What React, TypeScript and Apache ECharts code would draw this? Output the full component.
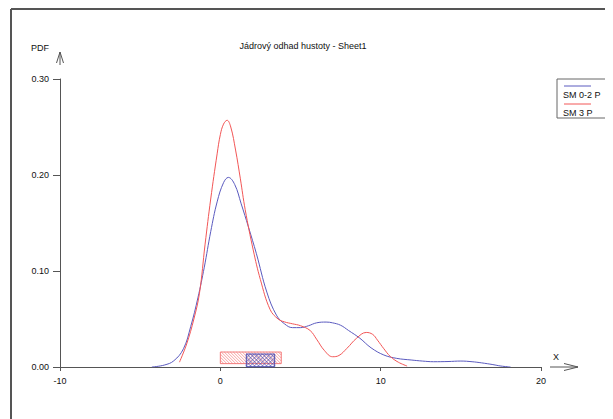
import React, { useEffect, useRef } from "react";
import * as echarts from "echarts";

const chartTitle = "Jádrový odhad hustoty - Sheet1";
const yAxisName = "PDF";
const xAxisName = "X";
const seriesNames = ["SM 0-2 P", "SM 3 P"];
const seriesColors = ["#5a5abf", "#f25656"];
const hatchColors = ["#4b4bb0", "#f47a7a"];

// SM 0-2 P kernel density
const blueX = [-4.27, -3.5, -2.9, -2.3, -1.85, -1.4, -1.0, -0.6, -0.2, 0.2, 0.5, 0.9, 1.3, 1.75, 2.25, 2.9, 3.5, 4.0, 4.5, 5.0, 5.5, 6.0, 6.6, 7.0, 7.5, 8.0, 8.7, 9.4, 10.2, 11.0, 11.9, 12.6, 13.3, 14.2, 15.0, 15.7, 16.3, 17.0, 17.5, 18.1];
const blueY = [0.0, 0.002, 0.0065, 0.019, 0.042, 0.072, 0.104, 0.141, 0.172, 0.192, 0.1975, 0.19, 0.17, 0.146, 0.118, 0.078, 0.054, 0.045, 0.041, 0.041, 0.043, 0.046, 0.0468, 0.046, 0.0435, 0.038, 0.03, 0.02, 0.0125, 0.009, 0.0073, 0.0062, 0.0055, 0.0057, 0.0062, 0.0055, 0.0043, 0.0025, 0.001, 0.0];

// SM 3 P kernel density
const redX = [-2.55, -2.1, -1.65, -1.3, -0.95, -0.6, -0.2, 0.0, 0.2, 0.42, 0.65, 0.95, 1.25, 1.55, 2.05, 2.5, 3.1, 3.6, 4.0, 4.5, 5.0, 5.6, 6.0, 6.5, 7.0, 7.4, 7.9, 8.5, 9.1, 9.5, 9.8, 10.2, 10.6, 11.1, 11.65];
const redY = [0.005, 0.024, 0.05, 0.077, 0.128, 0.175, 0.222, 0.242, 0.253, 0.257, 0.25, 0.226, 0.196, 0.164, 0.122, 0.091, 0.06, 0.05, 0.047, 0.045, 0.043, 0.038, 0.029, 0.017, 0.0107, 0.012, 0.0195, 0.03, 0.036, 0.034, 0.028, 0.019, 0.011, 0.005, 0.001];

// hatched boxes: [xStart, xEnd, yBottom, yTop]
const redBox = [0.0, 3.8, 0.0035, 0.0156];
const blueBox = [1.62, 3.39, 0.0003, 0.0135];

const xMin = -10, xMax = 20, xInterval = 10;
const yMin = 0, yMax = 0.3, yInterval = 0.1;

const FONT = "'Liberation Sans', Arial, sans-serif";

function hatchRender(cross: boolean, color: string, spacing: number) {
  return (params: any, api: any) => {
    const p0 = api.coord([api.value(0), api.value(3)]);
    const p1 = api.coord([api.value(1), api.value(2)]);
    const x0 = p0[0], y0 = p0[1];
    const w = p1[0] - p0[0], h = p1[1] - p0[1];
    const s = spacing;
    const children: any[] = [];
    for (let c = y0 - (x0 + w); c <= y0 + h - x0; c += s) {
      const xa = Math.max(x0, y0 - c), xb = Math.min(x0 + w, y0 + h - c);
      if (xb > xa) children.push({ type: "line", shape: { x1: xa, y1: xa + c, x2: xb, y2: xb + c }, style: { stroke: color, lineWidth: 0.7 } });
    }
    if (cross) {
      for (let c = x0 + y0; c <= x0 + w + y0 + h; c += s) {
        const xa = Math.max(x0, c - (y0 + h)), xb = Math.min(x0 + w, c - y0);
        if (xb > xa) children.push({ type: "line", shape: { x1: xa, y1: c - xa, x2: xb, y2: c - xb }, style: { stroke: color, lineWidth: 0.7 } });
      }
    }
    children.push({ type: "rect", shape: { x: x0, y: y0, width: w, height: h }, style: { fill: "none", stroke: color, lineWidth: 1 } });
    return { type: "group", children };
  };
}

export default function App() {
  const ref = useRef<HTMLDivElement>(null);
  useEffect(() => {
    if (!ref.current) return;
    const chart = echarts.init(ref.current, null, { renderer: "svg" });
    const axisColor = "#555";
    const labelStyle = { fontSize: 9, fontFamily: FONT, color: "#111" };
    chart.setOption({
      animation: false,
      backgroundColor: "#fff",
      grid: { left: 52, top: 71, width: 481, height: 288 },
      xAxis: {
        type: "value",
        min: xMin, max: xMax, interval: xInterval,
        axisLine: { show: true, onZero: false, lineStyle: { color: axisColor, width: 1 } },
        axisTick: { show: true, length: 4, lineStyle: { color: axisColor } },
        axisLabel: { ...labelStyle, margin: 9, formatter: (v: number) => String(v) },
        splitLine: { show: false },
      },
      yAxis: {
        type: "value",
        min: yMin, max: yMax, interval: yInterval,
        axisLine: { show: true, onZero: false, lineStyle: { color: axisColor, width: 1 } },
        axisTick: { show: true, length: 7, lineStyle: { color: axisColor } },
        axisLabel: { ...labelStyle, margin: 11, formatter: (v: number) => v.toFixed(2) },
        splitLine: { show: false },
      },
      series: [
        {
          type: "custom", name: seriesNames[1] + " box",
          renderItem: hatchRender(false, hatchColors[1], 3),
          encode: { x: [0, 1], y: [2, 3] },
          data: [redBox], silent: true, z: 3,
        },
        {
          type: "custom", name: seriesNames[0] + " box",
          renderItem: hatchRender(true, hatchColors[0], 4),
          encode: { x: [0, 1], y: [2, 3] },
          data: [blueBox], silent: true, z: 4,
        },
        {
          type: "line", name: seriesNames[0],
          data: blueX.map((x, i) => [x, blueY[i]]),
          smooth: 0.4, showSymbol: false,
          lineStyle: { color: seriesColors[0], width: 1 }, z: 5,
        },
        {
          type: "line", name: seriesNames[1],
          data: redX.map((x, i) => [x, redY[i]]),
          smooth: 0.4, showSymbol: false,
          lineStyle: { color: seriesColors[1], width: 1 }, z: 6,
        },
      ],
      graphic: [
        // outer frame
        { type: "line", shape: { x1: 3, y1: 1, x2: 605, y2: 1 }, style: { stroke: "#555", lineWidth: 2 } },
        { type: "line", shape: { x1: 3, y1: 1, x2: 3, y2: 411 }, style: { stroke: "#555", lineWidth: 2 } },
        // title
        { type: "text", x: 295, y: 38, style: { text: chartTitle, font: `9px ${FONT}`, fill: "#111", textAlign: "center", textVerticalAlign: "middle" } },
        // y axis arrow
        { type: "line", shape: { x1: 52, y1: 57, x2: 52, y2: 44 }, style: { stroke: axisColor, lineWidth: 1 } },
        { type: "polyline", shape: { points: [[48.5, 55], [52, 44], [55.5, 55]] }, style: { stroke: axisColor, lineWidth: 1, fill: "none" } },
        { type: "text", x: 32, y: 40, style: { text: yAxisName, font: `9px ${FONT}`, fill: "#111", textAlign: "center", textVerticalAlign: "middle" } },
        // x axis arrow
        { type: "line", shape: { x1: 542, y1: 359, x2: 570, y2: 359 }, style: { stroke: axisColor, lineWidth: 1 } },
        { type: "polyline", shape: { points: [[556, 355.5], [570, 359], [556, 362.5]] }, style: { stroke: axisColor, lineWidth: 1, fill: "none" } },
        { type: "text", x: 548, y: 349, style: { text: xAxisName, font: `9px ${FONT}`, fill: "#111", textAlign: "center", textVerticalAlign: "middle" } },
        // legend
        { type: "rect", shape: { x: 549, y: 71, width: 52, height: 39 }, style: { fill: "#fff", stroke: "#666", lineWidth: 1 } },
        { type: "line", shape: { x1: 556, y1: 78, x2: 583, y2: 78 }, style: { stroke: seriesColors[0], lineWidth: 1 } },
        { type: "text", x: 555, y: 87, style: { text: seriesNames[0], font: `9px ${FONT}`, fill: "#111", textAlign: "left", textVerticalAlign: "middle" } },
        { type: "line", shape: { x1: 556, y1: 96, x2: 583, y2: 96 }, style: { stroke: seriesColors[1], lineWidth: 1 } },
        { type: "text", x: 555, y: 105, style: { text: seriesNames[1], font: `9px ${FONT}`, fill: "#111", textAlign: "left", textVerticalAlign: "middle" } },
      ],
    });
    return () => chart.dispose();
  }, []);
  return <div ref={ref} style={{ width: 605, height: 411 }} />;
}
